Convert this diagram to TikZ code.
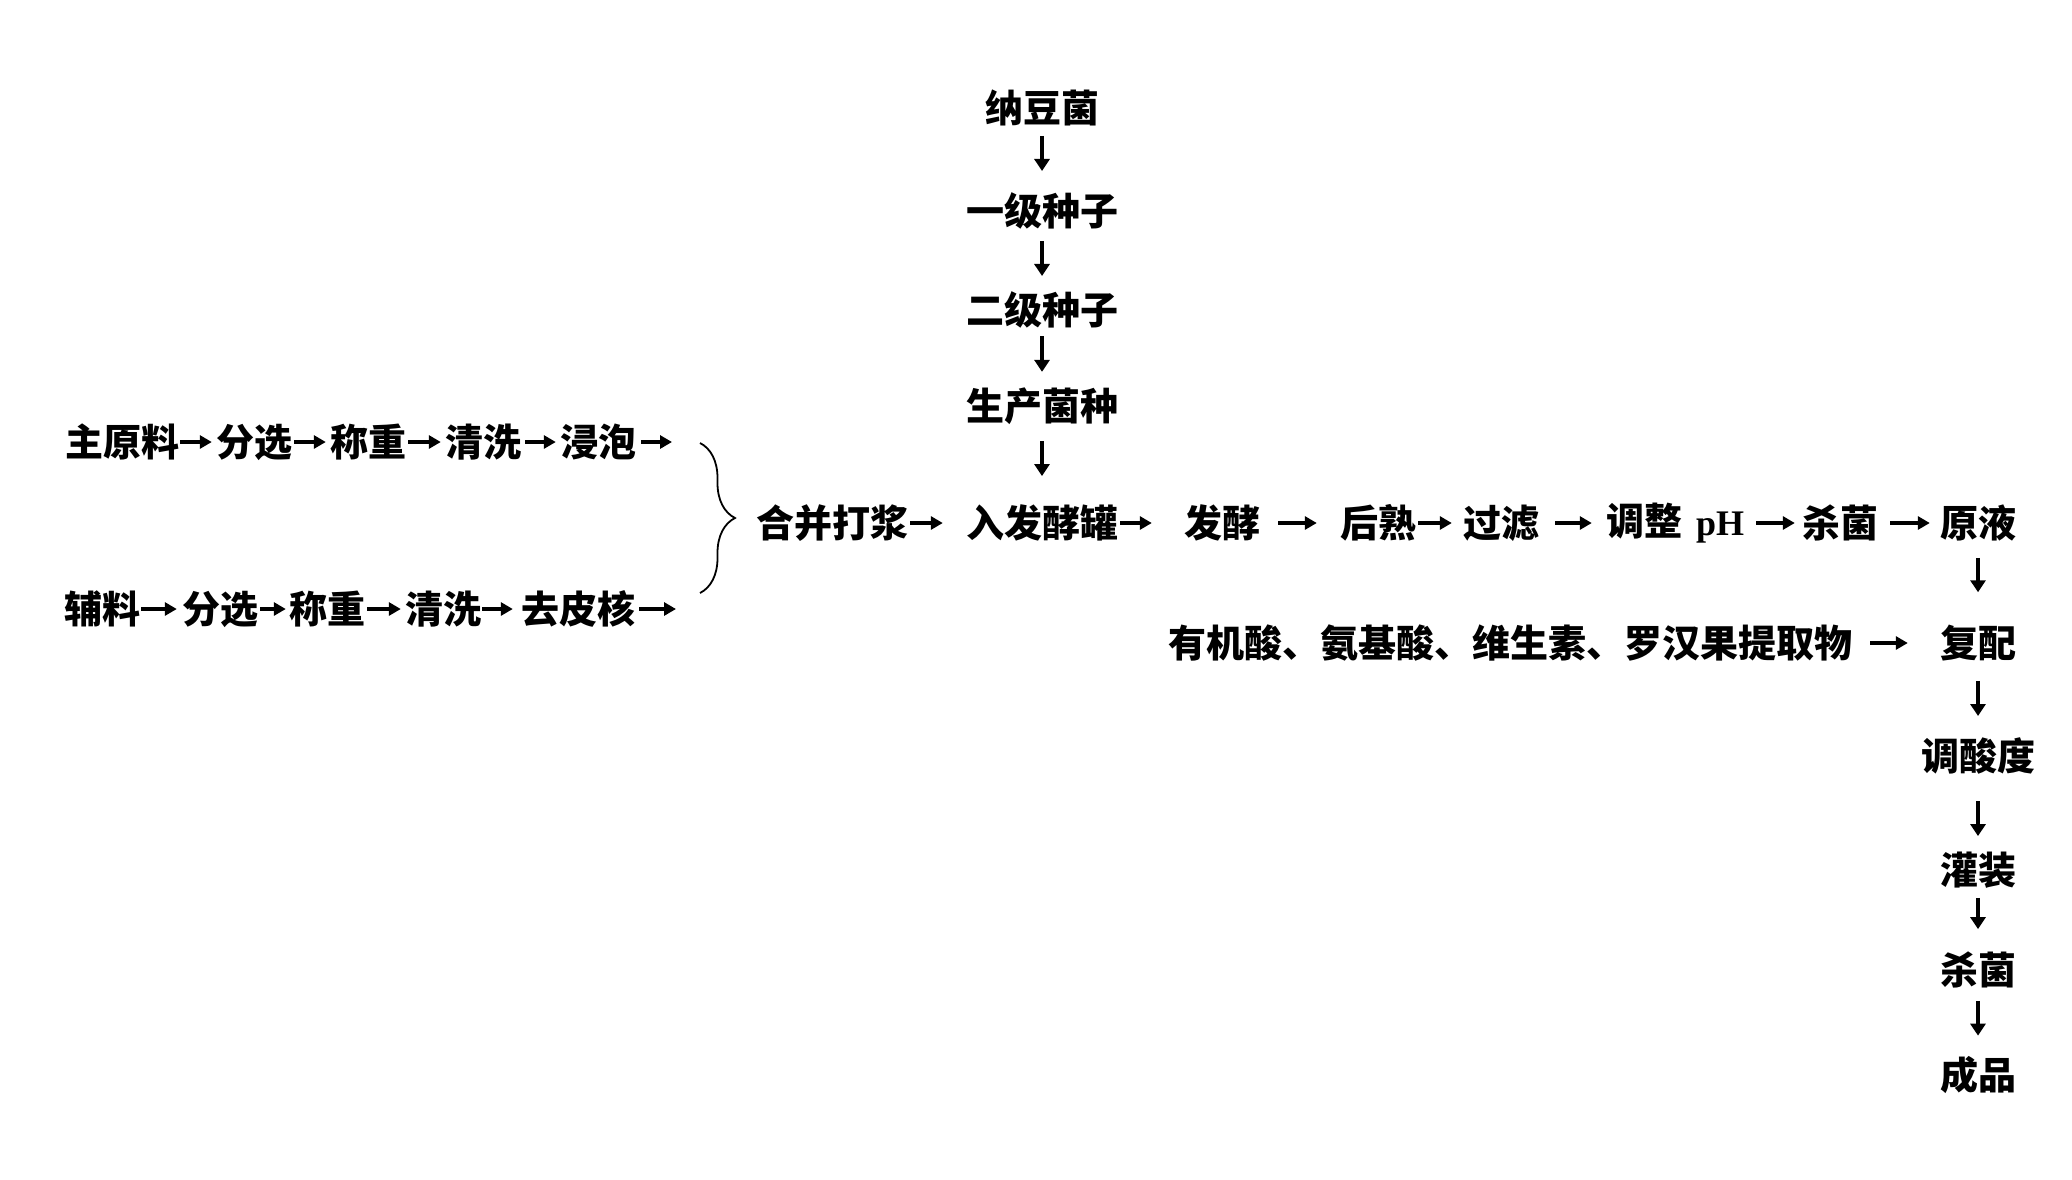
\documentclass[tikz,border=0pt]{standalone}
\usepackage{fontspec}
\newfontfamily\cjk{Noto Sans CJK SC}
\newfontfamily\tnr{Liberation Serif}
\usetikzlibrary{arrows.meta,decorations.pathreplacing}
\begin{document}
\begin{tikzpicture}[x=1pt,y=-1pt,
  lbl/.style={inner sep=0pt, font=\cjk\bfseries\fontsize{38}{40}\selectfont},
  harr/.style={line width=3.6pt, -{Triangle[length=12pt,width=13pt]}},
  varr/.style={line width=4.5pt, -{Triangle[length=12pt,width=15pt]}},
  bracestyle/.style={line width=1.8pt, decorate, decoration={brace, amplitude=35pt}}]
\fill[white] (0,0) rectangle (2072,1179);
\path[use as bounding box] (0,0) rectangle (2072,1179);

% row 1
\node[lbl] (a1) at (122,442) {主原料};
\node[lbl] (a2) at (254,442) {分选};
\node[lbl] (a3) at (368,442) {称重};
\node[lbl] (a4) at (483,442) {清洗};
\node[lbl] (a5) at (598,442) {浸泡};
\coordinate (a6) at (672,442);
\draw[harr, shorten <=1pt, shorten >=4pt] (a1) -- (a2);
\draw[harr, shorten <=2pt, shorten >=4pt] (a2) -- (a3);
\draw[harr, shorten <=2pt, shorten >=4pt] (a3) -- (a4);
\draw[harr, shorten <=4pt, shorten >=4pt] (a4) -- (a5);
\draw[harr, shorten <=5pt] (a5) -- (a6);

% row 2
\node[lbl] (b1) at (102,609) {辅料};
\node[lbl] (b2) at (220,609) {分选};
\node[lbl] (b3) at (327,609) {称重};
\node[lbl] (b4) at (443,609) {清洗};
\node[lbl] (b5) at (578,609) {去皮核};
\coordinate (b6) at (676,609);
\draw[harr, shorten <=1pt, shorten >=5pt] (b1) -- (b2);
\draw[harr, shorten <=2pt, shorten >=3pt] (b2) -- (b3);
\draw[harr, shorten <=2pt, shorten >=4pt] (b3) -- (b4);
\draw[harr, shorten <=1pt, shorten >=8pt] (b4) -- (b5);
\draw[harr, shorten <=4pt] (b5) -- (b6);

% brace
\coordinate (brt) at (700,443);
\coordinate (brb) at (700,593);
\draw[bracestyle] (brt) -- (brb);

% main row
\node[lbl] (m1) at (832,523) {合并打浆};
\node[lbl] (m2) at (1042,523) {入发酵罐};
\node[lbl] (m3) at (1222,523) {发酵};
\node[lbl] (m4) at (1378,523) {后熟};
\node[lbl] (m5) at (1501,523) {过滤};
\node[lbl] (m6) at (1675,523) {调整\hspace{14pt}{\tnr\fontsize{36}{38}\selectfont pH}};
\node[lbl] (m7) at (1840,523) {杀菌};
\node[lbl] (m8) at (1978,523) {原液};
\draw[harr, shorten <=2pt, shorten >=23pt] (m1) -- (m2);
\draw[harr, shorten <=2pt, shorten >=32pt] (m2) -- (m3);
\draw[harr, shorten <=18pt, shorten >=23pt] (m3) -- (m4);
\draw[harr, shorten <=2pt, shorten >=11pt] (m4) -- (m5);
\draw[harr, shorten <=16pt, shorten >=14pt] (m5) -- (m6);
\draw[harr, shorten <=12pt, shorten >=7pt] (m6) -- (m7);
\draw[harr, shorten <=12pt, shorten >=10pt] (m7) -- (m8);

% seed column
\node[lbl] (v1) at (1042,108) {纳豆菌};
\node[lbl] (v2) at (1042,211) {一级种子};
\node[lbl] (v3) at (1042,310) {二级种子};
\node[lbl] (v4) at (1042,406) {生产菌种};
\draw[varr, shorten <=9.5pt, shorten >=21.5pt] (v1) -- (v2);
\draw[varr, shorten <=11.5pt, shorten >=15.5pt] (v2) -- (v3);
\draw[varr, shorten <=7.5pt, shorten >=15.5pt] (v3) -- (v4);
\draw[varr, shorten <=16.5pt, shorten >=28.5pt] (v4) -- (m2);

% right column
\node[lbl] (s1) at (1510,643) {有机酸、氨基酸、维生素、罗汉果提取物};
\node[lbl] (r2) at (1978,643) {复配};
\node[lbl] (r3) at (1978,756) {调酸度};
\node[lbl] (r4) at (1978,870) {灌装};
\node[lbl] (r5) at (1978,970) {杀菌};
\node[lbl] (r6) at (1978,1075) {成品};
\draw[harr, shorten <=18pt, shorten >=32pt] (s1) -- (r2);
\draw[varr, shorten <=16.5pt, shorten >=32.5pt] (m8) -- (r2);
\draw[varr, shorten <=19.5pt, shorten >=21.5pt] (r2) -- (r3);
\draw[varr, shorten <=26.5pt, shorten >=15.5pt] (r3) -- (r4);
\draw[varr, shorten <=9.5pt, shorten >=22.5pt] (r4) -- (r5);
\draw[varr, shorten <=12.5pt, shorten >=20.5pt] (r5) -- (r6);
\end{tikzpicture}
\end{document}
